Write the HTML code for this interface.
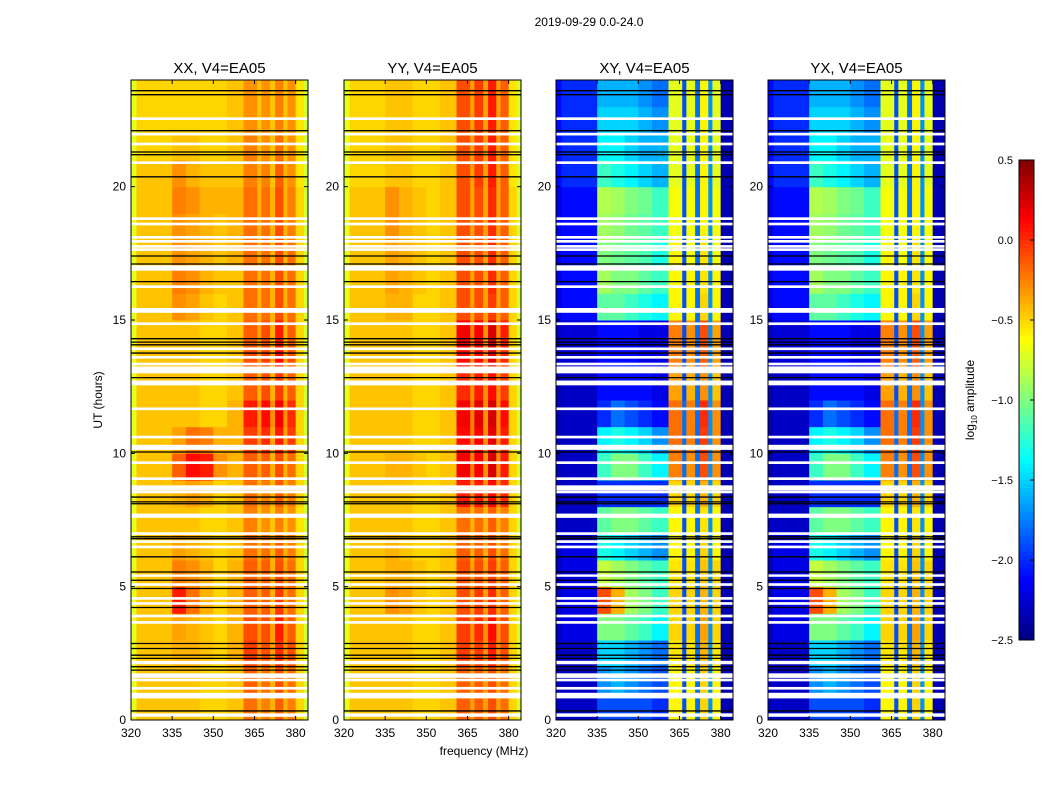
<!DOCTYPE html>
<html><head><meta charset="utf-8">
<style>
body{margin:0;background:#fff;}
svg{display:block;font-family:"Liberation Sans",sans-serif;}
</style></head>
<body>
<svg id="fig" width="1050" height="800" viewBox="0 0 1050 800">
<rect width="1050" height="800" fill="#fff"/>
<text x="589" y="26" font-size="12" text-anchor="middle">2019-09-29 0.0-24.0</text>
<text x="484" y="755" font-size="12" text-anchor="middle">frequency (MHz)</text>
<text transform="translate(102,400) rotate(-90)" font-size="12" text-anchor="middle">UT (hours)</text>
<g id="panels"></g>
<g id="cbar"></g>
<text transform="translate(974,400) rotate(-90)" font-size="12" text-anchor="middle">log<tspan font-size="8" dy="3">10</tspan><tspan dy="-3"> amplitude</tspan></text>
</svg>
<script>
const freqEdges = [320,322,335,340,345,350,355,361,366,367.5,370.7,372.5,375.5,377,380,383,384.5];
const hourEdges = [0,1,2,3,4,5,6,7,8,9,10,11,12,13,14,15,16,17,18,19,20,21,22,23,24];
const xTicks = [320,335,350,365,380];
const yTicks = [0,5,10,15,20];
const cbarTicks = [0.5,0.0,-0.5,-1.0,-1.5,-2.0,-2.5];
const cbarTickLabels = ["0.5","0.0","\u22120.5","\u22121.0","\u22121.5","\u22122.0","\u22122.5"];
const panelTitles = ["XX, V4=EA05","YY, V4=EA05","XY, V4=EA05","YX, V4=EA05"];
const whiteFlags = [[22.5,22.6],[21.92,22.02],[21.55,21.65],[20.85,20.95],[18.75,18.85],[18.55,18.65],[18.05,18.15],[17.9,18.0],[17.71,17.81],[17.59,17.69],[16.95,17.05],[16.85,16.95],[16.2,16.3],[15.27,15.45],[14.81,14.91],[13.87,13.97],[13.55,13.65],[13.3,13.4],[13.0,13.26],[12.55,12.73],[11.62,11.72],[10.56,10.66],[10.22,10.32],[10.13,10.23],[9.6,9.7],[9.0,9.1],[8.61,8.8],[8.5,8.6],[7.58,7.74],[6.94,7.04],[6.64,6.74],[6.44,6.54],[5.37,5.46],[5.03,5.13],[4.51,4.61],[4.32,4.42],[3.85,3.95],[3.61,3.71],[2.09,2.22],[1.58,1.75],[1.45,1.55],[1.14,1.24],[0.81,1.02],[0.12,0.25]];
const blackLines = [23.6,23.45,22.1,21.3,21.2,20.37,17.4,17.1,16.44,14.3,14.17,14.07,13.76,12.84,10.05,8.36,8.18,8.11,6.87,6.8,6.12,5.55,5.24,4.93,4.22,2.87,2.68,2.43,2.31,2.0,1.87,0.34];
const xxVals = [
[-0.7,-0.45,-0.45,-0.45,-0.5,-0.5,-0.45,-0.2,-0.4,-0.25,-0.4,-0.15,-0.4,-0.25,-0.5,-0.75],
[-0.7,-0.45,-0.45,-0.45,-0.5,-0.5,-0.45,-0.15,-0.4,-0.2,-0.4,-0.1,-0.4,-0.2,-0.5,-0.75],
[-0.7,-0.45,-0.4,-0.4,-0.45,-0.5,-0.4,-0.05,-0.3,-0.1,-0.35,0.0,-0.3,-0.1,-0.5,-0.75],
[-0.7,-0.45,-0.35,-0.4,-0.45,-0.5,-0.4,-0.1,-0.3,-0.1,-0.35,0.05,-0.3,-0.15,-0.5,-0.75],
[-0.7,-0.45,0.05,-0.2,-0.4,-0.5,-0.4,-0.15,-0.35,-0.15,-0.4,-0.05,-0.35,-0.2,-0.5,-0.75],
[-0.7,-0.45,-0.25,-0.3,-0.4,-0.5,-0.4,-0.15,-0.35,-0.15,-0.4,-0.1,-0.35,-0.2,-0.5,-0.75],
[-0.7,-0.45,-0.35,-0.4,-0.45,-0.5,-0.45,-0.2,-0.4,-0.2,-0.4,-0.15,-0.4,-0.25,-0.5,-0.75],
[-0.7,-0.45,-0.45,-0.45,-0.5,-0.5,-0.45,-0.25,-0.45,-0.3,-0.45,-0.25,-0.45,-0.3,-0.55,-0.75],
[-0.7,-0.45,-0.4,-0.35,-0.4,-0.5,-0.45,-0.2,-0.4,-0.25,-0.4,-0.15,-0.4,-0.25,-0.5,-0.75],
[-0.7,-0.45,-0.15,0.1,0.05,-0.3,-0.4,-0.15,-0.35,-0.15,-0.4,-0.1,-0.4,-0.2,-0.5,-0.75],
[-0.7,-0.45,-0.35,-0.2,-0.25,-0.4,-0.4,-0.05,-0.3,0.0,-0.35,0.05,-0.35,-0.05,-0.5,-0.75],
[-0.7,-0.45,-0.45,-0.45,-0.5,-0.5,-0.4,0.05,-0.3,0.1,-0.3,0.15,-0.3,0.0,-0.5,-0.75],
[-0.7,-0.45,-0.45,-0.45,-0.5,-0.5,-0.45,-0.15,-0.4,-0.1,-0.4,-0.05,-0.4,-0.15,-0.5,-0.75],
[-0.7,-0.45,-0.45,-0.45,-0.5,-0.5,-0.45,-0.1,-0.35,-0.05,-0.35,0.1,-0.35,-0.1,-0.5,-0.75],
[-0.7,-0.45,-0.45,-0.45,-0.5,-0.5,-0.45,-0.15,-0.35,-0.1,-0.4,0.05,-0.4,-0.15,-0.5,-0.75],
[-0.7,-0.45,-0.3,-0.35,-0.45,-0.5,-0.45,-0.2,-0.4,-0.2,-0.4,-0.1,-0.4,-0.2,-0.5,-0.75],
[-0.7,-0.45,-0.25,-0.3,-0.4,-0.45,-0.45,-0.2,-0.4,-0.2,-0.4,-0.1,-0.4,-0.2,-0.5,-0.75],
[-0.7,-0.45,-0.3,-0.35,-0.4,-0.45,-0.4,-0.2,-0.4,-0.2,-0.4,-0.1,-0.4,-0.2,-0.5,-0.75],
[-0.7,-0.45,-0.3,-0.35,-0.4,-0.45,-0.4,-0.2,-0.4,-0.2,-0.4,-0.1,-0.4,-0.25,-0.5,-0.75],
[-0.7,-0.45,-0.25,-0.3,-0.4,-0.4,-0.4,-0.2,-0.4,-0.2,-0.4,-0.1,-0.4,-0.25,-0.5,-0.75],
[-0.7,-0.45,-0.3,-0.4,-0.45,-0.45,-0.45,-0.25,-0.4,-0.25,-0.45,-0.15,-0.4,-0.3,-0.55,-0.75],
[-0.7,-0.5,-0.45,-0.45,-0.5,-0.5,-0.45,-0.25,-0.45,-0.3,-0.45,-0.2,-0.45,-0.3,-0.55,-0.75],
[-0.7,-0.5,-0.5,-0.5,-0.5,-0.5,-0.45,-0.3,-0.45,-0.3,-0.45,-0.25,-0.45,-0.3,-0.55,-0.75],
[-0.7,-0.5,-0.5,-0.5,-0.5,-0.5,-0.45,-0.3,-0.45,-0.3,-0.45,-0.25,-0.45,-0.3,-0.55,-0.75]
];
const yyVals = [
[-0.7,-0.45,-0.45,-0.45,-0.5,-0.5,-0.45,-0.15,-0.35,-0.15,-0.35,-0.1,-0.35,-0.2,-0.5,-0.75],
[-0.7,-0.45,-0.45,-0.45,-0.5,-0.5,-0.45,-0.15,-0.35,-0.15,-0.35,-0.1,-0.35,-0.2,-0.5,-0.75],
[-0.7,-0.45,-0.45,-0.45,-0.5,-0.5,-0.45,-0.05,-0.3,-0.05,-0.3,0.05,-0.3,-0.1,-0.5,-0.75],
[-0.7,-0.45,-0.45,-0.45,-0.5,-0.5,-0.45,-0.05,-0.3,0.0,-0.3,0.1,-0.3,-0.1,-0.5,-0.75],
[-0.7,-0.45,-0.3,-0.35,-0.45,-0.5,-0.45,-0.1,-0.35,-0.05,-0.35,0.0,-0.35,-0.15,-0.5,-0.75],
[-0.7,-0.45,-0.4,-0.4,-0.45,-0.5,-0.45,-0.1,-0.35,-0.1,-0.35,-0.05,-0.35,-0.15,-0.5,-0.75],
[-0.7,-0.45,-0.4,-0.45,-0.5,-0.5,-0.45,-0.15,-0.4,-0.15,-0.4,-0.1,-0.4,-0.2,-0.5,-0.75],
[-0.7,-0.45,-0.45,-0.45,-0.5,-0.5,-0.45,-0.2,-0.4,-0.2,-0.4,-0.15,-0.4,-0.25,-0.5,-0.75],
[-0.7,-0.45,-0.45,-0.45,-0.5,-0.5,-0.45,0.05,-0.3,0.05,-0.3,0.1,-0.3,0.0,-0.5,-0.75],
[-0.7,-0.45,-0.4,-0.4,-0.45,-0.5,-0.45,0.15,-0.25,0.15,-0.3,0.25,-0.3,0.05,-0.5,-0.75],
[-0.7,-0.45,-0.45,-0.45,-0.5,-0.5,-0.45,0.1,-0.25,0.15,-0.3,0.2,-0.3,0.05,-0.5,-0.75],
[-0.7,-0.45,-0.45,-0.45,-0.5,-0.5,-0.45,0.15,-0.25,0.2,-0.3,0.25,-0.3,0.1,-0.5,-0.75],
[-0.7,-0.45,-0.45,-0.45,-0.5,-0.5,-0.45,0.0,-0.3,0.05,-0.3,0.1,-0.3,-0.05,-0.5,-0.75],
[-0.7,-0.45,-0.45,-0.45,-0.5,-0.5,-0.45,0.1,-0.3,0.1,-0.3,0.2,-0.3,0.0,-0.5,-0.75],
[-0.7,-0.45,-0.45,-0.45,-0.5,-0.5,-0.45,0.15,-0.25,0.15,-0.3,0.25,-0.3,0.05,-0.5,-0.75],
[-0.7,-0.45,-0.4,-0.4,-0.5,-0.5,-0.45,-0.1,-0.35,-0.1,-0.35,-0.05,-0.35,-0.15,-0.5,-0.75],
[-0.7,-0.45,-0.35,-0.4,-0.45,-0.5,-0.45,-0.1,-0.35,-0.1,-0.35,0.0,-0.35,-0.15,-0.5,-0.75],
[-0.7,-0.45,-0.35,-0.4,-0.45,-0.5,-0.45,-0.1,-0.35,-0.1,-0.35,0.0,-0.35,-0.15,-0.5,-0.75],
[-0.7,-0.45,-0.3,-0.4,-0.45,-0.5,-0.45,-0.1,-0.35,-0.1,-0.35,0.0,-0.35,-0.15,-0.5,-0.75],
[-0.7,-0.45,-0.3,-0.4,-0.45,-0.5,-0.45,-0.1,-0.35,-0.1,-0.35,0.0,-0.35,-0.15,-0.5,-0.75],
[-0.7,-0.5,-0.45,-0.45,-0.5,-0.5,-0.45,-0.1,-0.35,-0.05,-0.35,0.05,-0.35,-0.15,-0.55,-0.75],
[-0.7,-0.5,-0.45,-0.45,-0.5,-0.5,-0.45,-0.1,-0.35,-0.05,-0.35,0.05,-0.35,-0.15,-0.55,-0.75],
[-0.7,-0.5,-0.45,-0.45,-0.5,-0.5,-0.45,-0.1,-0.35,-0.05,-0.35,0.05,-0.35,-0.15,-0.55,-0.75],
[-0.7,-0.5,-0.45,-0.45,-0.5,-0.5,-0.45,-0.1,-0.35,-0.05,-0.35,0.05,-0.35,-0.15,-0.55,-0.75]
];
const xyVals = [
[-2.3,-2.3,-1.9,-1.9,-1.9,-1.9,-2.0,-0.6,-1.9,-0.6,-1.8,-0.5,-1.7,-0.6,-2.35,-2.35],
[-2.3,-2.3,-1.7,-1.6,-1.7,-1.8,-1.9,-0.6,-1.9,-0.6,-1.8,-0.5,-1.7,-0.6,-2.35,-2.35],
[-2.3,-2.3,-1.5,-1.5,-1.6,-1.7,-1.8,-0.55,-1.9,-0.55,-1.8,-0.4,-1.7,-0.55,-2.35,-2.35],
[-2.3,-2.2,-1.0,-1.0,-1.1,-1.2,-1.4,-0.5,-1.9,-0.5,-1.8,-0.35,-1.7,-0.5,-2.35,-2.35],
[-2.3,-2.2,-0.1,-0.4,-0.9,-1.0,-1.2,-0.5,-1.9,-0.5,-1.8,-0.4,-1.7,-0.5,-2.35,-2.35],
[-2.3,-2.2,-0.8,-0.9,-1.0,-1.1,-1.2,-0.55,-1.9,-0.55,-1.8,-0.45,-1.7,-0.5,-2.35,-2.35],
[-2.3,-2.2,-1.3,-1.4,-1.5,-1.6,-1.7,-0.6,-1.9,-0.6,-1.8,-0.5,-1.7,-0.6,-2.35,-2.35],
[-2.3,-2.3,-1.1,-1.0,-1.0,-1.1,-1.2,-0.6,-1.9,-0.6,-1.8,-0.55,-1.7,-0.6,-2.35,-2.35],
[-2.35,-2.3,-2.0,-2.0,-2.0,-2.0,-2.0,-0.5,-1.9,-0.5,-1.8,-0.4,-1.7,-0.5,-2.35,-2.35],
[-2.35,-2.3,-1.2,-1.0,-1.0,-1.2,-1.4,-0.25,-1.8,-0.3,-1.8,-0.1,-1.7,-0.3,-2.35,-2.35],
[-2.35,-2.3,-1.4,-1.3,-1.4,-1.5,-1.7,-0.2,-1.8,-0.25,-1.8,-0.05,-1.7,-0.3,-2.35,-2.35],
[-2.35,-2.3,-2.0,-1.8,-1.9,-2.0,-2.1,-0.2,-1.8,-0.25,-1.8,0.0,-1.7,-0.3,-2.35,-2.35],
[-2.35,-2.3,-2.1,-2.1,-2.1,-2.1,-2.2,-0.35,-1.9,-0.4,-1.8,-0.3,-1.7,-0.45,-2.35,-2.35],
[-2.3,-2.25,-2.1,-2.1,-2.1,-2.2,-2.2,-0.25,-1.9,-0.3,-1.8,-0.15,-1.7,-0.35,-2.35,-2.35],
[-2.3,-2.25,-2.1,-2.1,-2.1,-2.2,-2.2,-0.25,-1.9,-0.3,-1.8,-0.1,-1.7,-0.35,-2.35,-2.35],
[-2.2,-2.1,-1.1,-1.1,-1.2,-1.3,-1.4,-0.6,-1.9,-0.6,-1.8,-0.5,-1.7,-0.6,-2.35,-2.35],
[-2.2,-2.1,-0.9,-1.0,-1.0,-1.1,-1.2,-0.6,-1.9,-0.6,-1.8,-0.55,-1.7,-0.6,-2.35,-2.35],
[-2.2,-2.1,-1.0,-1.05,-1.1,-1.15,-1.3,-0.6,-1.9,-0.65,-1.8,-0.55,-1.7,-0.65,-2.35,-2.35],
[-2.2,-2.1,-0.9,-0.95,-1.05,-1.1,-1.2,-0.65,-1.9,-0.65,-1.8,-0.6,-1.7,-0.65,-2.35,-2.35],
[-2.2,-2.1,-0.85,-0.9,-1.0,-1.05,-1.2,-0.65,-1.9,-0.65,-1.8,-0.6,-1.7,-0.65,-2.35,-2.35],
[-2.1,-2.0,-1.2,-1.3,-1.4,-1.5,-1.6,-0.7,-1.9,-0.7,-1.8,-0.6,-1.7,-0.7,-2.35,-2.35],
[-2.1,-2.0,-1.4,-1.4,-1.5,-1.6,-1.6,-0.7,-1.9,-0.7,-1.8,-0.6,-1.7,-0.7,-2.35,-2.35],
[-2.1,-2.0,-1.5,-1.5,-1.5,-1.6,-1.7,-0.7,-1.9,-0.7,-1.8,-0.6,-1.7,-0.7,-2.35,-2.35],
[-2.1,-2.0,-1.6,-1.6,-1.6,-1.7,-1.8,-0.7,-1.9,-0.7,-1.8,-0.6,-1.7,-0.7,-2.35,-2.35]
];
const yxVals = xyVals;
const panelData = [xxVals, yyVals, xyVals, yxVals];

const NS = "http://www.w3.org/2000/svg";
const panelLeft = [131,344,556,768];
const PW = 177, PT = 80, PB = 720;
const vmin = -2.5, vmax = 0.5;
function clamp(v){return Math.max(0,Math.min(1,v));}
function jet(v){
  const t = clamp((v - vmin)/(vmax - vmin));
  const r = clamp(1.5-Math.abs(4*t-3)), g = clamp(1.5-Math.abs(4*t-2)), b = clamp(1.5-Math.abs(4*t-1));
  return `rgb(${Math.round(r*255)},${Math.round(g*255)},${Math.round(b*255)})`;
}
function mk(tag, attrs, parent){
  const e = document.createElementNS(NS, tag);
  for (const k in attrs) e.setAttribute(k, attrs[k]);
  parent.appendChild(e);
  return e;
}
function yScale(h){return PB - (h - 0)/(24 - 0)*(PB - PT);}
const panels = document.getElementById("panels");
panelData.forEach((vals, p) => {
  const x0 = panelLeft[p];
  const xScale = f => x0 + (f - 320)/(384.5 - 320)*PW;
  const g = mk("g", {}, panels);
  
  
  vals.forEach((row, ri) => {
    row.forEach((v, ci) => {
      const xa = xScale(freqEdges[ci]), xb = xScale(freqEdges[ci+1]);
      const ya = yScale(hourEdges[ri+1]), yb = yScale(hourEdges[ri]);
      const r = mk("rect", {x:xa, y:ya, width:xb-xa+0.5, height:yb-ya+0.5, fill:jet(v)}, g);
      
      
    });
  });
  whiteFlags.forEach(f => {
    const ya = yScale(f[1]), yb = yScale(f[0]);
    const r = mk("rect", {x:x0, y:ya, width:PW, height:Math.max(2, yb-ya), fill:"#fff"}, g);
    
    
  });
  blackLines.forEach(h => {
    const y = yScale(h);
    const l = mk("line", {x1:x0, x2:x0+PW, y1:y, y2:y, stroke:"#000", "stroke-width":1.3}, g);
    
    
  });
  const fr = mk("rect", {x:x0, y:PT, width:PW, height:PB-PT, fill:"none", stroke:"#000", "stroke-width":1}, g);
  
  
  xTicks.forEach(t => {
    const x = xScale(t);
    mk("line", {x1:x, x2:x, y1:PB, y2:PB-4, stroke:"#000"}, g);
    mk("line", {x1:x, x2:x, y1:PT, y2:PT+4, stroke:"#000"}, g);
    const tx = mk("text", {x:x, y:PB+17, "font-size":12, "text-anchor":"middle"}, g);
    tx.textContent = t;
    
    
  });
  yTicks.forEach(t => {
    const y = yScale(t);
    mk("line", {x1:x0, x2:x0+4, y1:y, y2:y, stroke:"#000"}, g);
    mk("line", {x1:x0+PW, x2:x0+PW-4, y1:y, y2:y, stroke:"#000"}, g);
    const tx = mk("text", {x:x0-5, y:y+4, "font-size":12, "text-anchor":"end"}, g);
    tx.textContent = t;
    
    
  });
  const tt = mk("text", {x:x0+PW/2, y:73, "font-size":15, "text-anchor":"middle"}, g);
  tt.textContent = panelTitles[p];
  
  
});
// colorbar
const cb = document.getElementById("cbar");
const CX = 1019, CW = 15, CT = 160, CB = 640;
const cbY = v => CT + (vmax - v)/(vmax - vmin)*(CB - CT);
for (let i = 0; i < 120; i++) {
  const v = vmax - (i + 0.5)/120*(vmax - vmin);
  const r = mk("rect", {x:CX, y:CT + i*(CB-CT)/120, width:CW, height:(CB-CT)/120+0.5, fill:jet(v)}, cb);
  
  
}
mk("rect", {x:CX, y:CT, width:CW, height:CB-CT, fill:"none", stroke:"#000"}, cb);
cbarTicks.forEach((t, i) => {
  const y = cbY(t);
  mk("line", {x1:CX+CW, x2:CX+CW-4, y1:y, y2:y, stroke:"#000"}, cb);
  const tx = mk("text", {x:CX-6, y:y+4, "font-size":11, "text-anchor":"end"}, cb);
  tx.textContent = cbarTickLabels[i];
  
  
});
</script>
</body></html>
